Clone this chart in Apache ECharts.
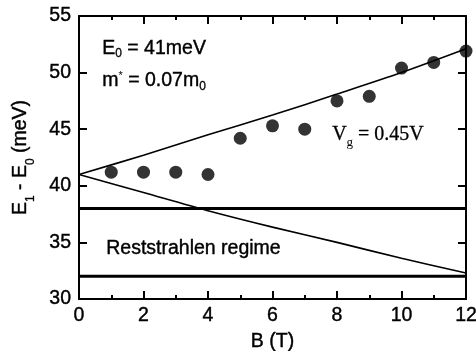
<!DOCTYPE html>
<html><head><meta charset="utf-8">
<script src="https://cdn.jsdelivr.net/npm/echarts@6/dist/echarts.min.js"></script>
<style>html,body{margin:0;padding:0;background:#fff}#c{width:476px;height:351px}</style>
</head><body><div id="c"></div>
<script>
const dataB = [1,2,3,4,5,6,7,8,9,10,11,12];
const dataE = [41.2,41.2,41.2,41.0,44.2,45.3,45.0,47.5,47.9,50.4,50.9,51.9];
const curveB = [0,2,4,6,8,10,12];
const upperE = [41.0,42.7,44.5,46.25,48.1,50.0,52.1];
const lowerE = [41.0,39.4,37.8,36.35,35.0,33.6,32.3];
const bandB = [0,12];
const bandTop = [38,38];
const bandBottom = [32,32];
const xTicks = {min:0,max:12,interval:2};
const yTicks = {min:30,max:55,interval:5};

const FONT = '"Liberation Sans", Arial, Helvetica, sans-serif';
const SERIF = '"Liberation Serif", "Times New Roman", serif';
const FS = 19.5;
const pair = (xs, ys) => xs.map((x,i)=>[x,ys[i]]);
const chart = echarts.init(document.getElementById('c'));
const axisLine = {show:true,onZero:false,lineStyle:{color:'#000',width:2}};
const tick = {show:true,inside:true,length:8,lineStyle:{color:'#000',width:2}};
const minor = {show:true,splitNumber:2,length:4,lineStyle:{color:'#000',width:2}};
const lbl = {fontFamily:FONT,fontSize:FS,color:'#000',textBorderColor:'#000',textBorderWidth:0.4};
chart.setOption({
  animation:false,
  grid:{left:79,right:10,top:16,bottom:52,containLabel:false,outerBoundsMode:'none'},
  xAxis:[{
    type:'value',min:xTicks.min,max:xTicks.max,interval:xTicks.interval,position:'bottom',
    name:'B (T)',nameLocation:'middle',nameGap:31,
    nameTextStyle:lbl,
    axisLine:axisLine,axisTick:tick,minorTick:minor,
    axisLabel:Object.assign({margin:7},lbl),
    splitLine:{show:false}
  },{
    type:'value',min:xTicks.min,max:xTicks.max,interval:xTicks.interval,position:'top',
    axisLine:axisLine,axisTick:tick,minorTick:minor,
    axisLabel:{show:false},splitLine:{show:false}
  }],
  yAxis:[{
    type:'value',min:yTicks.min,max:yTicks.max,interval:yTicks.interval,position:'left',
    name:'{a|E}{s|1}{a| - E}{s|0}{a| (meV)}',nameLocation:'middle',nameGap:48,
    nameTextStyle:{fontFamily:FONT,fontSize:FS,color:'#000',
      rich:{a:lbl,s:{fontFamily:FONT,fontSize:12,color:'#000',textBorderColor:'#000',textBorderWidth:0.3,verticalAlign:'bottom',padding:[0,0,-6,0]}}},
    axisLine:axisLine,axisTick:tick,
    axisLabel:Object.assign({margin:8},lbl),
    splitLine:{show:false}
  },{
    type:'value',min:yTicks.min,max:yTicks.max,interval:yTicks.interval,position:'right',
    axisLine:axisLine,axisTick:tick,
    axisLabel:{show:false},splitLine:{show:false}
  }],
  series:[
    {type:'line',data:pair(bandB,bandTop),symbol:'none',lineStyle:{color:'#000',width:3},silent:true},
    {type:'line',data:pair(bandB,bandBottom),symbol:'none',lineStyle:{color:'#000',width:3},silent:true},
    {type:'line',data:pair(curveB,upperE),symbol:'none',smooth:0.3,lineStyle:{color:'#000',width:1.6}},
    {type:'line',data:pair(curveB,lowerE),symbol:'none',smooth:0.3,lineStyle:{color:'#000',width:1.6}},
    {type:'scatter',data:pair(dataB,dataE),symbol:'circle',symbolSize:13,itemStyle:{color:'#000'}}
  ],
  graphic:[
    {type:'text',left:102,top:38,style:{text:'{a|E}{s|0}{a| = 41meV}',
      rich:{a:{fontFamily:FONT,fontSize:FS,fill:'#000',stroke:'#000',lineWidth:0.4},s:{fontFamily:FONT,fontSize:12,fill:'#000',stroke:'#000',lineWidth:0.3,padding:[11,0,0,0]}}}},
    {type:'text',left:102,top:70,style:{text:'{a|m}{p|*}{a| = 0.07m}{s|0}',
      rich:{a:{fontFamily:FONT,fontSize:FS,fill:'#000',stroke:'#000',lineWidth:0.4},p:{fontFamily:FONT,fontSize:11,fill:'#000',padding:[0,0,11,0]},s:{fontFamily:FONT,fontSize:12,fill:'#000',stroke:'#000',lineWidth:0.3,padding:[11,0,0,0]}}}},
    {type:'text',left:332,top:125,style:{text:'{a|V}{s|g}{a| = 0.45V}',
      rich:{a:{fontFamily:SERIF,fontSize:20,fill:'#000',stroke:'#000',lineWidth:0.3},s:{fontFamily:SERIF,fontSize:13,fill:'#000',padding:[15,0,0,0]}}}},
    {type:'text',left:106,top:238,style:{text:'Reststrahlen regime',fontFamily:FONT,fontSize:FS,fill:'#000',stroke:'#000',lineWidth:0.4}}
  ]
});
</script></body></html>
